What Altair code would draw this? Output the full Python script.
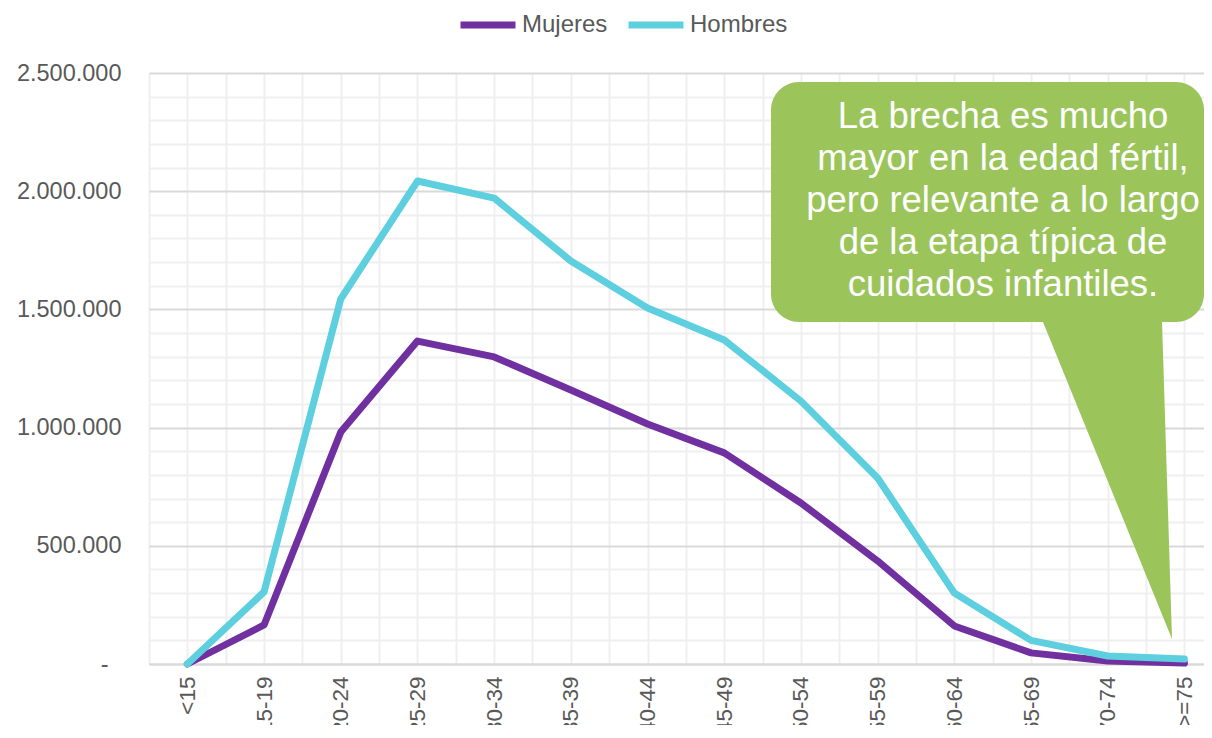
import json
import altair as alt
import pandas as pd

categories = ["<15", "15-19", "20-24", "25-29", "30-34", "35-39", "40-44",
              "45-49", "50-54", "55-59", "60-64", "65-69", "70-74", ">=75"]
mujeres = [0, 165000, 981000, 1366000, 1299000, 1159000, 1015000,
           893000, 681000, 436000, 161000, 47000, 13000, 4000]
hombres = [0, 305000, 1544000, 2043000, 1971000, 1705000, 1506000,
           1371000, 1112000, 787000, 300000, 100000, 34000, 21000]
series_names = ["Mujeres", "Hombres"]
series_colors = ["#7030a0", "#5dcfdf"]
callout_text = ["La brecha es mucho", "mayor en la edad fértil,",
                "pero relevante a lo largo", "de la etapa típica de",
                "cuidados infantiles."]

rows = []
for i, c in enumerate(categories):
    rows.append({"idx": i, "cat": c, "serie": "Mujeres", "valor": mujeres[i]})
    rows.append({"idx": i, "cat": c, "serie": "Hombres", "valor": hombres[i]})
df = pd.DataFrame(rows)

FONT = "Liberation Sans"
cats_js = json.dumps(categories)

x_vals = [v / 2 for v in range(-1, 2 * len(categories) - 1)]
y_vals = list(range(0, 2500001, 100000))

x_axis = alt.Axis(
    values=x_vals,
    labelExpr=f"datum.value % 1 === 0 ? {cats_js}[datum.value] : ''",
    labelAngle=-90, labelFontSize=22.5, labelFont=FONT, labelColor="#595959",
    labelPadding=12, ticks=False, tickSize=0, title=None,
    grid=True, gridColor="#efefef", gridWidth=2,
    domain=True, domainColor="#d9d9d9", domainWidth=2,
)
y_axis = alt.Axis(
    values=y_vals,
    labelExpr="datum.value % 500000 === 0 ? (datum.value === 0 ? '-' : replace(replace(format(datum.value, ','), ',', '.'), ',', '.')) : ''",
    labelFontSize=23.5, labelFont=FONT, labelColor="#595959",
    labelPadding={"condition": {"test": "datum.value === 0", "value": 41}, "value": 28},
    ticks=False, tickSize=0, title=None,
    grid=True,
    gridColor={"condition": {"test": "datum.value % 500000 === 0", "value": "#d9d9d9"}, "value": "#efefef"},
    gridWidth=2, domain=False,
)

lines = alt.Chart(df).mark_line(strokeWidth=7, strokeCap="round", strokeJoin="round").encode(
    x=alt.X("idx:Q", scale=alt.Scale(domain=[-0.5, 13.255], nice=False, zero=False), axis=x_axis),
    y=alt.Y("valor:Q", scale=alt.Scale(domain=[0, 2500000], nice=False), axis=y_axis),
    color=alt.Color("serie:N", sort=series_names,
                    scale=alt.Scale(domain=series_names, range=series_colors),
                    legend=alt.Legend(
                        title=None, orient="none", legendX=308, legendY=-79,
                        direction="horizontal", symbolType="stroke",
                        symbolSize=3025, symbolStrokeWidth=7,
                        labelFontSize=24, labelFont=FONT, labelColor="#595959",
                        labelOffset=3, columnPadding=6, padding=0,
                    )),
    detail="serie:N",
)

GREEN = "#9bc55a"
box = alt.Chart(pd.DataFrame({"k": [0]})).mark_rect(color=GREEN, cornerRadius=28).encode(
    x=alt.value(622), x2=alt.value(1055), y=alt.value(9), y2=alt.value(249)
)
pointer = alt.Chart(pd.DataFrame({"k": [0]})).mark_point(
    shape="M -0.407 -1 L 0.344 -1 L 0.407 1 Z", filled=True, color=GREEN,
    opacity=1, size=100489, strokeWidth=0
).encode(x=alt.value(958.5), y=alt.value(407.5))
label = alt.Chart(pd.DataFrame({"t": ["\n".join(callout_text)]})).mark_text(
    font=FONT, fontSize=36.5, color="white", align="center", baseline="alphabetic",
    lineBreak="\n", lineHeight=42
).encode(x=alt.value(854), y=alt.value(55), text="t:N")

chart = alt.layer(lines, box, pointer, label).properties(
    width=1055, height=591,
    autosize=alt.AutoSizeParams(type="none"),
    padding={"left": 141, "top": 65, "right": 0, "bottom": 61},
).configure_view(stroke=None)

chart.save("out.html", embed_options={"renderer": "svg", "actions": False})
